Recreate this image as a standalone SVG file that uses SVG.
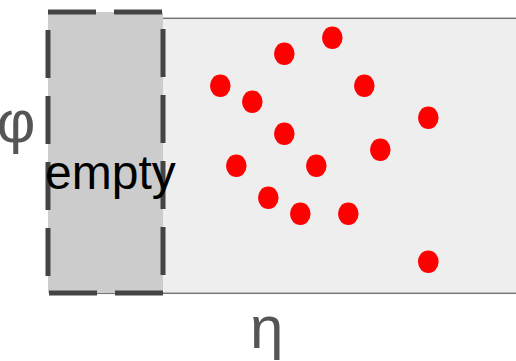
<svg xmlns="http://www.w3.org/2000/svg" width="516" height="361" viewBox="0 0 516 361">
<style>
.dot{fill:#ff0000}
.axis{font-family:"Liberation Sans",Arial,sans-serif;font-size:60px;fill:#555555}
.lbl{font-family:"Liberation Sans",Arial,sans-serif;font-size:48px;fill:#000000}
</style>
<rect width="516" height="361" fill="#ffffff"/>
<g id="region">
<rect x="50" y="18.3" width="480" height="275" fill="#eeeeee" stroke="#777777" stroke-width="1.5"/>
</g>
<g id="empty">
<rect x="48" y="12" width="115" height="281" fill="#cccccc" stroke="#444444" stroke-width="5" stroke-dasharray="48 18"/>
<text class="lbl" x="45" y="189">empty</text>
</g>
<g id="points">
<ellipse class="dot" cx="284.3" cy="53.7" rx="10.3" ry="11.3"/>
<ellipse class="dot" cx="332.3" cy="37.7" rx="10.3" ry="11.3"/>
<ellipse class="dot" cx="220.3" cy="85.7" rx="10.3" ry="11.3"/>
<ellipse class="dot" cx="252.3" cy="101.7" rx="10.3" ry="11.3"/>
<ellipse class="dot" cx="364.3" cy="85.7" rx="10.3" ry="11.3"/>
<ellipse class="dot" cx="428.3" cy="117.7" rx="10.3" ry="11.3"/>
<ellipse class="dot" cx="284.3" cy="133.7" rx="10.3" ry="11.3"/>
<ellipse class="dot" cx="380.3" cy="149.7" rx="10.3" ry="11.3"/>
<ellipse class="dot" cx="236.3" cy="165.7" rx="10.3" ry="11.3"/>
<ellipse class="dot" cx="316.3" cy="165.7" rx="10.3" ry="11.3"/>
<ellipse class="dot" cx="268.3" cy="197.7" rx="10.3" ry="11.3"/>
<ellipse class="dot" cx="300.3" cy="213.7" rx="10.3" ry="11.3"/>
<ellipse class="dot" cx="348.3" cy="213.7" rx="10.3" ry="11.3"/>
<ellipse class="dot" cx="428.3" cy="261.7" rx="10.3" ry="11.3"/>
</g>
<g id="axes">
<text class="axis" x="16" y="142" text-anchor="middle">φ</text>
<text class="axis" x="250" y="348">η</text>
</g>
</svg>
